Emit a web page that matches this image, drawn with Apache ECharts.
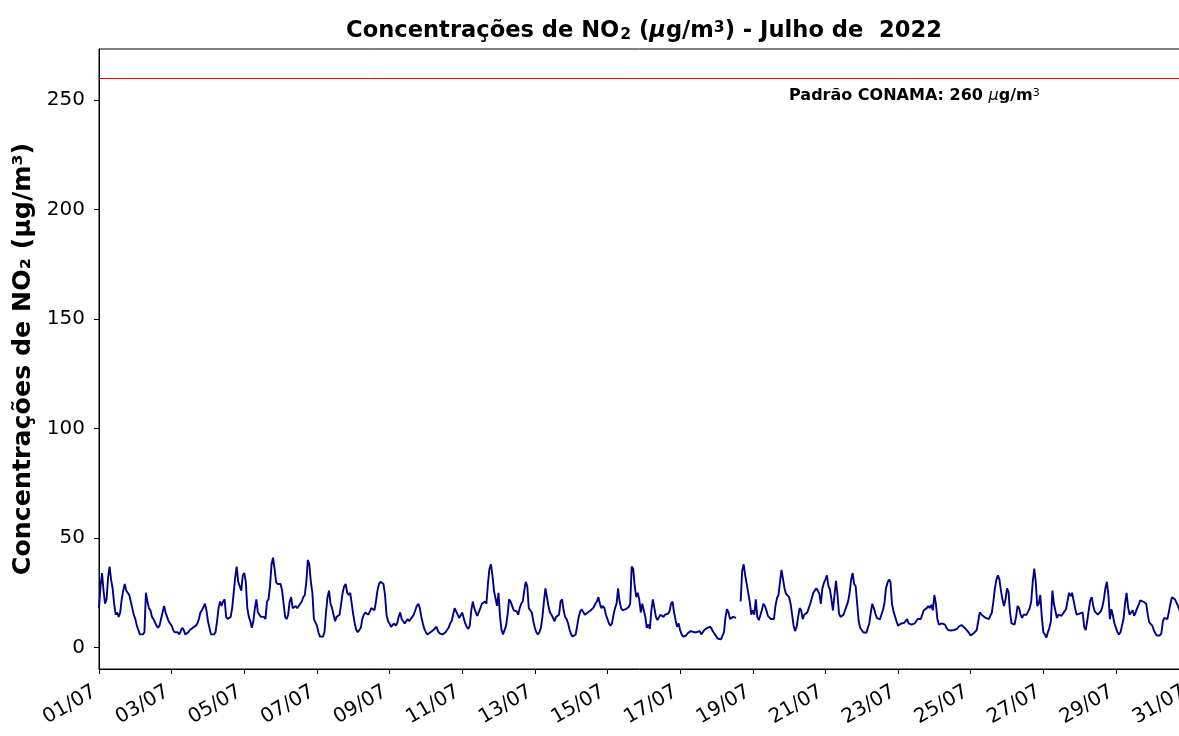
<!DOCTYPE html>
<html><head><meta charset="utf-8">
<script src="https://cdn.jsdelivr.net/npm/echarts@6/dist/echarts.min.js"></script>
<style>html,body{margin:0;padding:0;background:#fff}#c{width:1179px;height:736px}</style>
</head><body><div id="c"></div>
<script>
// Hourly NO2 concentrations (µg/m³), July 2022 — one array per day (00h..23h)
const d01=[18,28,34,26,20,22,32,37,31,27,20,15,16,14,16,22,26,29,26,26,24,21,18,15];
const d02=[13,10,8,6,6,6,7,25,21,18,17,14,13,13,10,9,10,13,16,19,16,14,12,11];
const d03=[10,8,7,7,7,6,6,9,8,6,5.5,7,8,8,9,9,10,11,13,16,17,17,20,17];
const d04=[12,9,6,5.5,6,7,12,18,21,19,21,22,14,13,13,14,18,25,32,37,30,30,26,33];
const d05=[34,30,18,14,12,9,12,18,22,16,15,14,14,14,13,21,22,28,38,41,36,30,29,29];
const d06=[29,26,20,14,13,15,21,23,18,18,19,18,19,20,21,23,24,30,40,38,30,25,13,13];
const d07=[10,7,5,5,5,7,16,23,26,20,18,15,12,14,13.5,15,20,25,28,29,25,24,25,20];
const d08=[15,11,8,7,8,9,13,15,16,16,15,15,18,18,17,21,26,29,30,30,29,24,15,12];
const d09=[11,9.5,10,11,10,11,14,16,13,12,11,12,13,12,13,14,15,17,19,20,18,14,11,8.5];
const d10=[7,6,5.5,7,7.5,8,8,9.5,7.5,6.5,6,6,6.5,7,8,9,11,12,15,18,17.5,15,13.5,13];
const d11=[16,16,11,9.5,8.5,10,17,21,18,16,14.5,15,18,20,19.5,21,20,29,36,38,33,26,25.5,19];
const d12=[25,14,8,6,6,10,15,22,21,19,17,16.5,16.5,15,18,20,21,26,30,28,18,17.5,16,12];
const d13=[9,7,6,7,9,14,21,27,27,19,16,15,13.5,12,14,14,15,21,22,17,14,13,11,8];
const d14=[6,5,4.5,6,10,14,16.5,17.5,17.5,15,14.5,16,16.5,17,17.5,18.5,20,21,23,20,18,19,18,15];
const d15=[13,11,10,11,15,18,20,27,21,18,17,17.5,17.5,18,18.5,20,37,36,28,23,25,22,16,20];
const d16=[20,14,9,10.5,8.5,17,22,18,14,12.5,12.5,15,15,14,15,15,15.5,16.5,20,21,16,12.5,9.5,11];
const d17=[8,6,5,5,5.5,6.5,7,7.5,8,7,6.5,7,7,7.5,6,6,8,8.5,9,9.5,9.5,9,7,6];
const d18=[5,4,3.7,3.7,4,7,14,17.5,16,13,13.5,14,13.5,13.5,null,null,21,35,38,33,29,29,21,15];
const d19=[17,15,22,14,12.5,13,17,20,19,17,14.5,14,13,13,13,19,22.5,24,30,35.5,35,27,24.5,24];
const d20=[23,20,15,10,7.5,9.5,14,18,17,13,15,15.5,16,18,20,22.5,25,26,27,26,24.5,20,27,29.5];
const d21=[31,33,28,26.5,22,17,24,30.5,24,15.5,14,14,15,17,19,21,25,31,34,29,28,20,12,9];
const d22=[8,7,6.7,6.7,6.7,11,16,20,18,15.5,13.5,13,12.8,12.8,17,20,27,29.5,31,30,20,16.5,16,12];
const d23=[10,9.5,11,11.3,11.2,11,13,11,10.5,10.5,11,11,12,13,13.5,13,15,17,17,18,19,18,19.5,17];
const d24=[24,20,13,10.5,10,11,11,10.5,9,8,7.5,7.8,8,8,7.7,8.5,9.5,10,10.3,10.5,9,8.2,7.5,6.5];
const d25=[5.5,5.5,6.5,7,8,12,16,16.5,14.5,14,13.5,13.2,13,13.5,16,21,27,31,33,31,26,22,19,22];
const d26=[27,25.5,16,11,10.5,10.5,14,19,18,15,13.5,15,14.5,15,16.5,18,21,30,36,30,19,20,24,14];
const d27=[7,6,4.5,7,9,12,26,20,20,13.5,15,15,14.5,15,16.5,17.5,18,25,23.5,25,25,18,15,15.5];
const d28=[15.5,15.5,16,9.5,8,12,17,21.5,23,19,16.5,16.5,15,14.5,16.5,18.5,22,27,30,24,13,17.5,14.5,11];
const d29=[9,7,6,7,10,13,20,25,18.5,15,16,17,14.5,16,18,19.5,21.5,22,21,20.5,20,15,11.5,12];
const d30=[10,8,6.5,5.5,5.2,5.5,6.5,12,13.5,13.5,13,13,20,23,23,22,22,19,17,17];
const days=[d01,d02,d03,d04,d05,d06,d07,d08,d09,d10,d11,d12,d13,d14,d15,d16,d17,d18,d19,d20,d21,d22,d23,d24,d25,d26,d27,d28,d29,d30];

// Axis ticks
const xTickHours=[0,48,96,144,192,240,288,336,384,432,480,528,576,624,672,720];
const xTickLabels=['01/07','03/07','05/07','07/07','09/07','11/07','13/07','15/07','17/07','19/07','21/07','23/07','25/07','27/07','29/07','31/07'];
const yTicks=[0,50,100,150,200,250];

// Reference standard
const conamaLimit=260;
const annotationPos=[456,250]; // 20/07 00h, 250 µg/m³

const hourly=[];
days.forEach((d,i)=>d.forEach((v,j)=>hourly.push([i*24+j,v])));

const FONT='DejaVu Sans';
const chart=echarts.init(document.getElementById('c'),null,{renderer:'canvas'});
chart.setOption({
  animation:false,
  backgroundColor:'#fff',
  title:{
    text:'{a|Concentrações de NO}{s|2}{a| (}{m|μ}{a|g/m}{p|3}{a|) - Julho de  2022}',
    left:644, top:20, textAlign:'center', padding:0,
    textStyle:{
      rich:{
        a:{fontFamily:FONT,fontWeight:'bold',fontSize:22.6,color:'#000'},
        s:{fontFamily:FONT,fontSize:15.5,color:'#000',verticalAlign:'bottom',padding:[0,0,0,1]},
        m:{fontFamily:FONT,fontStyle:'italic',fontSize:22.6,color:'#000'},
        p:{fontFamily:FONT,fontSize:15.5,color:'#000',verticalAlign:'top'}
      }
    }
  },
  grid:{left:99,top:49,height:620,width:1124.4,show:true,borderColor:'#000',borderWidth:1,
    containLabel:false,outerBoundsMode:'none'},
  xAxis:{
    type:'value',min:0,max:743,
    axisLine:{show:true,onZero:false,lineStyle:{color:'#000',width:1}},
    axisTick:{show:true,customValues:xTickHours,length:5,lineStyle:{color:'#000',width:1}},
    axisLabel:{customValues:xTickHours,formatter:v=>xTickLabels[xTickHours.indexOf(v)],rotate:30,
      fontFamily:FONT,fontSize:20,color:'#000',margin:19,padding:[0,5,0,0]},
    splitLine:{show:false}
  },
  yAxis:{
    type:'value',min:-9.8,max:273.3,
    name:'Concentrações de NO₂ (µg/m³)',nameLocation:'middle',nameGap:51,
    nameTextStyle:{fontFamily:FONT,fontWeight:'bold',fontSize:25.3,color:'#000'},
    axisLine:{show:true,onZero:false,lineStyle:{color:'#000',width:1}},
    axisTick:{show:true,customValues:yTicks,length:5,lineStyle:{color:'#000',width:1}},
    axisLabel:{customValues:yTicks,fontFamily:FONT,fontSize:20,color:'#000',margin:14},
    splitLine:{show:false}
  },
  series:[
    {
      type:'line',data:hourly,showSymbol:false,connectNulls:false,
      lineStyle:{color:'#00008b',width:1.9},
      itemStyle:{color:'#00008b'},
      markLine:{silent:true,symbol:'none',label:{show:false},
        lineStyle:{color:'#ff0000',width:1,type:'solid'},
        data:[{yAxis:conamaLimit}]}
    },
    {
      type:'scatter',data:[annotationPos],symbolSize:0,silent:true,
      label:{show:true,position:[0,4],align:'left',verticalAlign:'bottom',color:'#000',opacity:1,
        formatter:'{b|Padrão CONAMA: 260 }{m|μ}{b|g/m}{p|3}',
        rich:{
          b:{fontFamily:FONT,fontWeight:'bold',fontSize:16,color:'#000'},
          m:{fontFamily:FONT,fontStyle:'italic',fontSize:16,color:'#000'},
          p:{fontFamily:FONT,fontSize:11,color:'#000',verticalAlign:'top'}
        }}
    }
  ]
});
</script></body></html>
